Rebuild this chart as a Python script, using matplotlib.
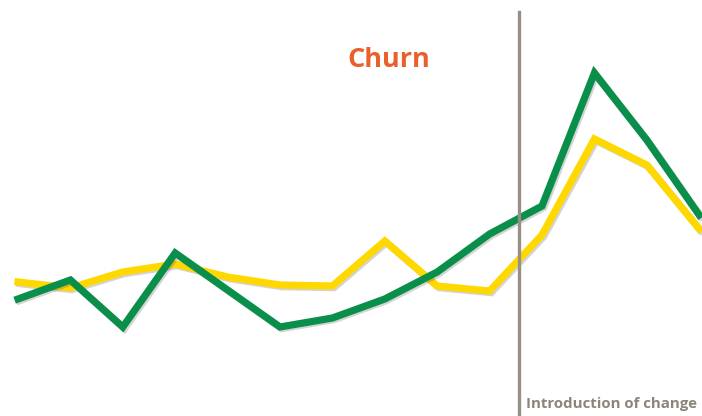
import matplotlib
matplotlib.use("Agg")
import matplotlib.pyplot as plt
import matplotlib.patheffects as pe

periods = list(range(14))
green = [117, 136, 89, 163, 126, 89, 98, 117, 144, 182, 210, 343, 276, 201]
yellow = [134, 128, 144, 152, 139, 131, 130, 175, 130, 125, 181, 277, 251, 187]
change_at = 9.56
title = "Churn"
note = "Introduction of change"

fig = plt.figure(figsize=(7.02, 4.16), dpi=100)
ax = fig.add_axes([0, 0, 1, 1])
ax.set_xlim(-18/52.4, (702-18)/52.4)
ax.set_ylim(0, 416)
ax.axis("off")

shadow = [pe.SimpleLineShadow(offset=(1.2, -1.2), alpha=0.25, shadow_color="#555555"), pe.Normal()]
ax.plot(periods, yellow, color="#FFD800", lw=5.2, solid_joinstyle="miter", path_effects=shadow, zorder=2)
ax.plot(periods, green, color="#0A8F4B", lw=5.2, solid_joinstyle="miter", path_effects=shadow, zorder=3)
ax.plot([change_at, change_at], [0, 404], color="#958F86", lw=2.4, zorder=4)

ax.text(389/702, 1 - 60/416, title, transform=ax.transAxes, ha="center", va="center",
        fontsize=19.5, fontweight="bold", color="#E8602A", family="Open Sans")
ax.text(526/702, 1 - 404/416, note, transform=ax.transAxes, ha="left", va="center",
        fontsize=10.8, fontweight="bold", color="#8C8579", family="Open Sans")

fig.savefig("out.png", dpi=100)
